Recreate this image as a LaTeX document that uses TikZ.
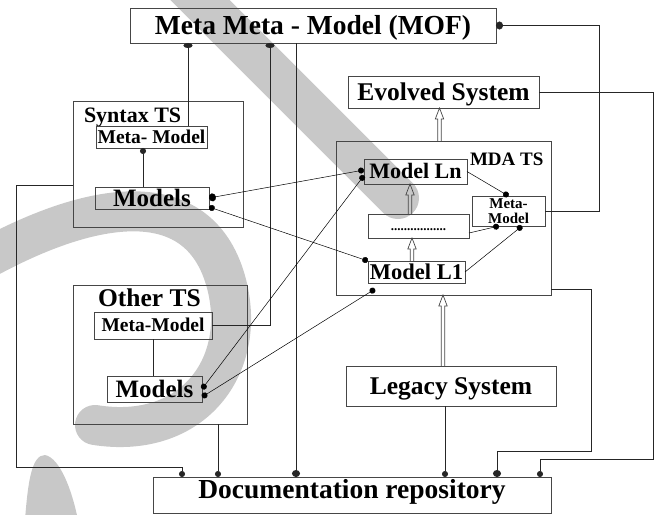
\documentclass[tikz,border=0pt]{standalone}
\usepackage{fontspec}
\setmainfont{Liberation Serif}
\usepackage{xcolor}
\usepackage{tikz}
\usetikzlibrary{arrows.meta,positioning,calc}

\definecolor{wmark}{RGB}{200,200,200}
\definecolor{edge}{RGB}{70,70,70}
\newcommand{\bsz}[1]{\fontsize{#1}{#1}\selectfont\bfseries}
% hollow double arrow pointing up, from #1 to #2
\newcommand{\hollowup}[2]{%
  \draw[edge,line width=0.7pt] ([xshift=-1.8pt]#1) -- ([xshift=-1.8pt,yshift=-11pt]#2)
    -- ([xshift=-4.2pt,yshift=-11pt]#2) -- (#2) -- ([xshift=4.2pt,yshift=-11pt]#2)
    -- ([xshift=1.8pt,yshift=-11pt]#2) -- ([xshift=1.8pt]#1);}

\tikzset{ball/.tip={Circle[length=6pt,width=6pt]},
         bigball/.tip={Circle[length=7pt,width=8pt]},
         flatball/.tip={Circle[length=5pt,width=9pt]}}

\begin{document}
\begin{tikzpicture}[x=1pt,y=-1pt,every node/.style={inner sep=0pt,outer sep=0pt}]
\tikzstyle{box}=[draw=edge,line width=0.9pt,align=center]
\tikzstyle{fs}=[font=\bsz{#1},text height=0.75*#1pt,text depth=0.1*#1pt]
\tikzstyle{tsbox}=[draw=edge,line width=0.9pt]
\tikzstyle{wire}=[draw=black!85,line width=0.8pt]
\tikzstyle{link}=[draw=black,line width=0.5pt]

\useasboundingbox (0,0) rectangle (660,514);

% watermark
\begin{scope}
\clip (0,0) rectangle (660,514);
\draw[wmark,line width=42pt,line cap=round] (170,-30) -- (398,198);
\draw[wmark,line width=40pt,line cap=round] (-20,262) .. controls (100,195) and (205,185) .. (228,290) .. controls (245,370) and (190,440) .. (95,425);
\fill[wmark] (25,520) .. controls (28,480) and (32,455) .. (45,455) .. controls (60,458) and (72,490) .. (78,520) -- cycle;
\end{scope}

% top and outside
\node[box,fs=27.5,minimum width=366pt,minimum height=35pt] (mof) at (313,25.5) {Meta Meta - Model (MOF)};
\node[box,fs=25.5,minimum width=191pt,minimum height=32pt] (evolved) at (443.5,92) {Evolved System};
\node[box,fs=25.5,minimum width=210pt,minimum height=40pt] (legacy) at (451,386) {Legacy System};
\node[box,fs=27.5,text depth=14pt,minimum width=398pt,minimum height=36pt] (doc) at (352,495) {Documentation repository};

% syntax TS
\node[tsbox,minimum width=170pt,minimum height=126pt] (syntax) at (158,164) {};
\node[anchor=base west,font=\bsz{22}] (synlbl) at (84,122) {Syntax TS};
\node[box,fs=19.5,minimum width=111pt,minimum height=22pt] (synmeta) at (151.5,137) {Meta- Model};
\node[box,fs=25,minimum width=114pt,minimum height=22pt] (synmodels) at (152,198) {Models};

% other TS
\node[tsbox,minimum width=174pt,minimum height=139pt] (other) at (160,354.5) {};
\node[anchor=base west,font=\bsz{25.5}] (othlbl) at (98,306.5) {Other TS};
\node[box,fs=19.5,minimum width=118pt,minimum height=27pt] (othmeta) at (153,325.5) {Meta-Model};
\node[box,fs=25,minimum width=95pt,minimum height=26pt] (othmodels) at (154.5,389) {Models};

% MDA TS
\node[tsbox,minimum width=215pt,minimum height=154pt] (mda) at (443.5,218) {};
\node[anchor=base west,font=\bsz{19}] (mdalbl) at (470,165) {MDA TS};
\node[box,fs=22,minimum width=103pt,minimum height=25pt] (ln) at (415.5,171.5) {Model Ln};
\node[box,font=\bsz{15},minimum width=73pt,minimum height=30pt] (mdameta) at (508.5,211) {Meta-\\Model};
\node[box,fs=13,minimum width=101pt,minimum height=24pt] (dotsbox) at (418.5,226) {.................};
\node[box,fs=22.5,minimum width=97pt,minimum height=22pt] (l1) at (416.5,272) {Model L1};

% MOF links
\draw[wire,{flatball}-] ([xshift=-125pt]mof.south) -- ([xshift=-125pt]mof.south |- synmeta.north);
\draw[wire,{flatball}-] ([xshift=-43pt]mof.south) |- (othmeta.east);
\draw[wire,-{bigball}] ([xshift=-17pt]mof.south) -- ([xshift=-17pt]mof.south |- doc.north);
\draw[wire,{bigball}-] (mof.east) -- ++(103,0) |- (mdameta.east);

% inside the TS boxes
\draw[wire,{ball}-] ([xshift=-8.5pt]synmeta.south) -- ([xshift=-8.5pt]synmeta.south |- synmodels.north);
\draw[wire] (othmeta.south) -- (othmeta.south |- othmodels.north);

% down to the repository
\draw[wire,-{ball}] ([yshift=-21pt]syntax.west) -| (16,467) -| ([xshift=-170pt]doc.north);
\draw[wire,-{ball}] ([xshift=58pt]other.south) -- ([xshift=58pt]other.south |- doc.north);
\draw[wire,-{ball}] ([xshift=-6pt]legacy.south) -- ([xshift=-6pt]legacy.south |- doc.north);
\draw[wire,-{bigball}] ([yshift=-71pt]mda.east) -| (591,451) -| ([xshift=145pt]doc.north);
\draw[wire,-{ball}] (evolved.east) -| (653,459) -| ([xshift=188pt]doc.north);

% transformations
\coordinate (up1) at ([xshift=-4pt]mda.north);
\coordinate (up1e) at (up1 |- evolved.south);
\coordinate (up2) at ([xshift=-8.5pt]dotsbox.north);
\coordinate (up2e) at (up2 |- ln.south);
\coordinate (up3) at ([xshift=-4.5pt]l1.north);
\coordinate (up3e) at (up3 |- dotsbox.south);
\coordinate (up4) at ([xshift=-8pt]legacy.north);
\coordinate (up4e) at (up4 |- mda.south);
\hollowup{up1}{up1e}
\hollowup{up2}{up2e}
\hollowup{up3}{up3e}
\hollowup{up4}{up4e}

% model links
\draw[link,-{ball}] (ln.east) -- (mdameta.north);
\draw[link,-{ball}] ([yshift=-7pt]dotsbox.east) -- ([xshift=-9.5pt]mdameta.south);
\draw[link,-{ball}] (l1.east) -- ([xshift=13.5pt]mdameta.south);
\draw[link,{bigball}-{ball}] (synmodels.east) -- ([yshift=1.5pt]ln.west);
\draw[link,{ball}-{ball}] ([yshift=2pt]synmodels.south east) -- (l1.north west);
\draw[link,{ball}-{ball}] (othmodels.east) -- ([yshift=-4pt]ln.west);
\draw[link,{ball}-{ball}] ([yshift=5pt]othmodels.south east) -- ([xshift=-41.5pt,yshift=-6pt]l1.south);
\end{tikzpicture}
\end{document}
